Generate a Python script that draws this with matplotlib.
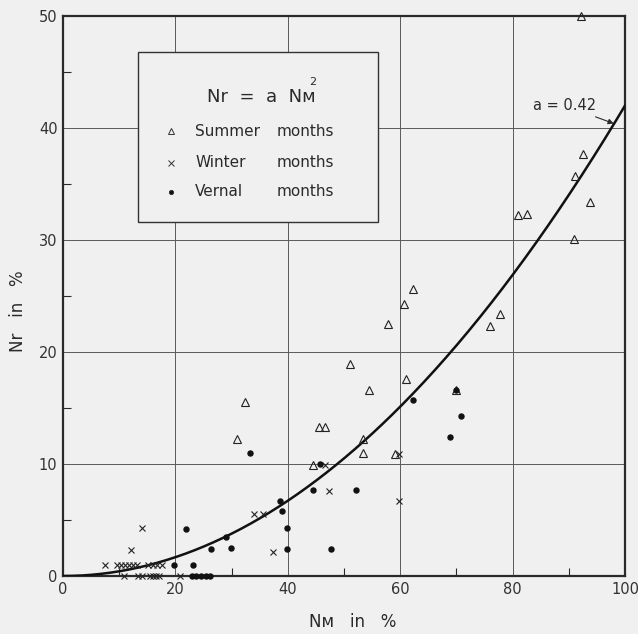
import numpy as np
import matplotlib
matplotlib.use("Agg")
import matplotlib.pyplot as plt

# Observations: cloudiness of the mean (N_M) vs. frequency of overcast (N_r), in %
summer_x = [32.3, 31.0, 45.6, 46.7, 44.4, 51.0, 54.4, 57.8, 60.7, 62.3, 61.0, 53.4,
            53.4, 59.1, 70.0, 75.9, 77.8, 80.9, 82.6, 91.0, 91.1, 92.5, 93.7, 92.2]
summer_y = [15.5, 12.2, 13.3, 13.3, 9.9, 18.9, 16.6, 22.5, 24.3, 25.6, 17.6, 12.2,
            11.0, 10.9, 16.6, 22.3, 23.4, 32.2, 32.3, 30.1, 35.7, 37.7, 33.4, 50.0]

winter_x = [7.5, 9.6, 10.3, 11.0, 11.8, 12.5, 13.2, 15.2, 16.1, 16.8, 17.6,
            12.1, 14.0, 10.9, 13.4, 14.0, 15.5, 16.0, 16.5, 17.0, 20.8,
            34.0, 35.5, 37.3, 46.6, 47.3, 59.8, 59.8]
winter_y = [1.0, 1.0, 1.0, 1.0, 1.0, 1.0, 1.0, 1.0, 1.0, 1.0, 1.0,
            2.3, 4.3, 0.0, 0.0, 0.0, 0.0, 0.0, 0.0, 0.0, 0.0,
            5.5, 5.5, 2.1, 9.9, 7.6, 10.9, 6.7]

vernal_x = [19.8, 21.8, 23.1, 26.4, 29.0, 29.9, 33.2, 38.7, 39.0, 39.9, 39.8, 44.4,
            45.7, 47.7, 52.1, 62.3, 68.9, 70.0, 70.9, 23.0, 23.6, 24.6, 25.5, 26.1]
vernal_y = [1.0, 4.2, 1.0, 2.4, 3.45, 2.5, 11.0, 6.7, 5.8, 4.3, 2.4, 7.7,
            10.0, 2.4, 7.7, 15.7, 12.4, 16.6, 14.3, 0.0, 0.0, 0.0, 0.0, 0.0]

coef_a = 0.42
x_ticks = [0, 20, 40, 60, 80, 100]
y_ticks = [0, 10, 20, 30, 40, 50]

bg = "#f0f0f0"
ink = "#2a2a2a"
plt.rcParams["font.family"] = ["DejaVu Sans"]

fig = plt.figure(figsize=(6.38, 6.34), dpi=100, facecolor=bg)
ax = fig.add_axes([63 / 638, 58 / 634, 562 / 638, 560 / 634], facecolor=bg)
ax.set_xlim(0, 100)
ax.set_ylim(0, 50)

# grid
for gx in x_ticks[1:-1]:
    ax.axvline(gx, color="#5a5a5a", lw=0.7, zorder=1)
for gy in y_ticks[1:-1]:
    ax.axhline(gy, color="#5a5a5a", lw=0.7, zorder=1)

for s in ax.spines.values():
    s.set_linewidth(1.6)
    s.set_color(ink)

ax.set_xticks(x_ticks)
ax.set_yticks(y_ticks)
ax.set_xticks([10, 30, 50, 70, 90], minor=True)
ax.set_yticks([5, 15, 25, 35, 45], minor=True)
ax.tick_params(which="major", direction="in", length=0, labelsize=10.5,
               labelcolor="#333333", pad=4)
ax.tick_params(which="minor", direction="in", length=6, width=0.8, color=ink)

# fitted curve  N_r = a * N_M^2  (fractions -> percent)
xs = np.linspace(0, 100, 300)
ax.plot(xs, coef_a * (xs / 100) ** 2 * 100, color="#111111", lw=1.8, zorder=3)

ax.plot(summer_x, summer_y, ls="none", marker="^", ms=6, mfc="none", mec="#222222",
        mew=0.8, clip_on=False, zorder=4)
ax.plot(winter_x, winter_y, ls="none", marker="x", ms=5, mec="#222222",
        mew=0.8, clip_on=False, zorder=4)
ax.plot(vernal_x, vernal_y, ls="none", marker="o", ms=3.6, mfc="#111111",
        mec="#111111", clip_on=False, zorder=4)

# key box
ax.add_patch(plt.Rectangle((13.3, 31.6), 42.7, 15.2, facecolor=bg, edgecolor="#333333",
                           lw=1.0, zorder=5))
tsize = 11
ax.text(45.0, 42.3, "Nr  =  a  Nᴍ", ha="right", va="baseline", fontsize=13,
        color=ink, zorder=6)
ax.text(45.0, 43.8, "2", ha="right", va="baseline", fontsize=8, color=ink, zorder=6)
rows = [("Summer", 39.7, "^", 5, "none"), ("Winter", 36.9, "x", 4.5, None),
        ("Vernal", 34.3, "o", 3, "#111111")]
for name, ry, mk, ms, mfc in rows:
    kw = dict(mfc=mfc) if mfc is not None else {}
    ax.plot([19.2], [ry], ls="none", marker=mk, ms=ms, mec="#333333", mew=0.7,
            zorder=6, **kw)
    ax.text(23.5, ry, name, ha="left", va="center", fontsize=tsize, color=ink, zorder=6)
    ax.text(38.0, ry, "months", ha="left", va="center", fontsize=tsize, color=ink,
            zorder=6)

ax.annotate("a = 0.42", xy=(98.0, 40.4), xytext=(89.3, 42.0), ha="center", va="center",
            fontsize=10.5, color=ink,
            arrowprops=dict(arrowstyle="-|>", color=ink, lw=0.8, mutation_scale=8,
                            shrinkA=2, shrinkB=0))

ax.text(51.5, -4.1, "Nᴍ   in   %", ha="center", va="center", fontsize=12, color=ink)
ax.text(-8.0, 23.6, "Nr   in   %", ha="center", va="center", rotation=90,
        fontsize=12, color=ink)

fig.savefig("out.png", dpi=100, facecolor=bg)
